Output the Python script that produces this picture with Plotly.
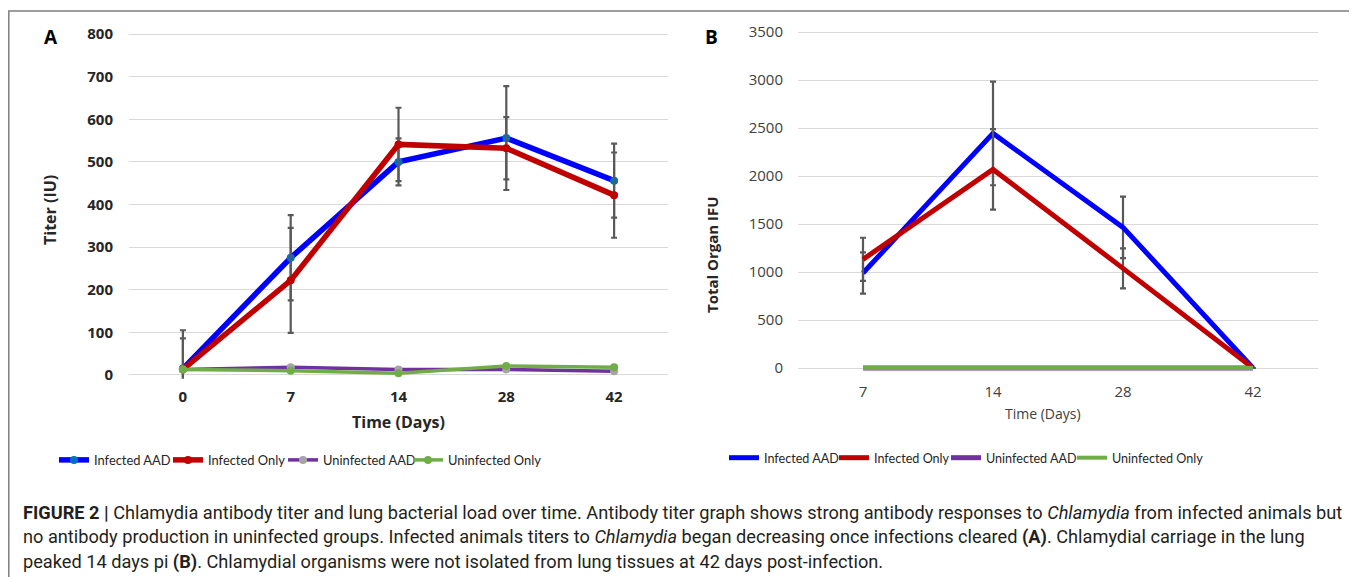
import plotly.graph_objects as go

# ---------------- data ----------------
days_a = ["0", "7", "14", "28", "42"]
inf_aad_a = [15, 275, 500, 556, 456]
inf_aad_a_err = [90, 100, 55, 122, 87]
inf_only_a = [13, 222, 541, 532, 422]
inf_only_a_err = [73, 123, 86, 73, 100]
uninf_aad_a = [13, 18, 13, 13, 9]
uninf_only_a = [13, 10, 4, 21, 18]

days_b = ["7", "14", "28", "42"]
inf_aad_b = [990, 2444, 1465, 0]
inf_aad_b_err = [215, 540, 320, None]
inf_only_b = [1132, 2069, 1038, 0]
inf_only_b_err = [225, 420, 209, None]
uninf_aad_b = [0, 0, 0, 0]
uninf_only_b = [0, 0, 0, 0]

series_names = ["Infected AAD", "Infected Only", "Uninfected AAD", "Uninfected Only"]
yticks_a = [0, 100, 200, 300, 400, 500, 600, 700, 800]
yticks_b = [0, 500, 1000, 1500, 2000, 2500, 3000, 3500]

# ---------------- style ----------------
# the page body has an 8px margin, so the figure is placed at (8, 8) in the window
OFF = 8
W, H = 1357 - OFF, 577 - OFF
BLUE, RED, PURPLE, GREEN = "#0000FF", "#C00000", "#7030A0", "#70AD47"
ERR = dict(type="data", visible=True, color="#595959", thickness=2.2, width=3)
GRID = "#D9D9D9"


def px_x(p):
    return (p - OFF) / W


def px_y(p):
    return 1 - (p - OFF) / H


fig = go.Figure()

# ---- Panel A ----
fig.add_trace(go.Scatter(x=days_a, y=inf_aad_a, name=series_names[0], mode="lines+markers",
                         line=dict(color=BLUE, width=5.5), marker=dict(color="#0070C0", size=8),
                         error_y=dict(array=inf_aad_a_err, **ERR), xaxis="x", yaxis="y", legend="legend"))
fig.add_trace(go.Scatter(x=days_a, y=inf_only_a, name=series_names[1], mode="lines+markers",
                         line=dict(color=RED, width=5.5), marker=dict(color=RED, size=8),
                         error_y=dict(array=inf_only_a_err, **ERR), xaxis="x", yaxis="y", legend="legend2"))
fig.add_trace(go.Scatter(x=days_a, y=uninf_aad_a, name=series_names[2], mode="lines+markers",
                         line=dict(color=PURPLE, width=3.5), marker=dict(color="#A5A5A5", size=8),
                         xaxis="x", yaxis="y", legend="legend3"))
fig.add_trace(go.Scatter(x=days_a, y=uninf_only_a, name=series_names[3], mode="lines+markers",
                         line=dict(color=GREEN, width=3.5), marker=dict(color=GREEN, size=8),
                         xaxis="x", yaxis="y", legend="legend4"))

# ---- Panel B ----
fig.add_trace(go.Scatter(x=days_b, y=inf_aad_b, name=series_names[0], mode="lines",
                         line=dict(color=BLUE, width=5),
                         error_y=dict(array=inf_aad_b_err, **ERR), xaxis="x2", yaxis="y2", legend="legend5"))
fig.add_trace(go.Scatter(x=days_b, y=inf_only_b, name=series_names[1], mode="lines",
                         line=dict(color=RED, width=5),
                         error_y=dict(array=inf_only_b_err, **ERR), xaxis="x2", yaxis="y2", legend="legend6"))
fig.add_trace(go.Scatter(x=days_b, y=uninf_aad_b, name=series_names[2], mode="lines",
                         line=dict(color=PURPLE, width=5), xaxis="x2", yaxis="y2", legend="legend7"))
fig.add_trace(go.Scatter(x=days_b, y=uninf_only_b, name=series_names[3], mode="lines",
                         line=dict(color=GREEN, width=4), xaxis="x2", yaxis="y2", legend="legend8"))

fig.update_layout(
    template="none",
    width=W, height=H, margin=dict(l=0, r=0, t=0, b=0, pad=0), autosize=False,
    font=dict(family="Open Sans", size=14, color="#262626"),
    paper_bgcolor="white", plot_bgcolor="white", showlegend=True,
    xaxis=dict(domain=[px_x(129), px_x(668)], type="category", range=[-0.5, 4.5],
               showgrid=False, zeroline=False, automargin=False,
               showline=False, ticks="", ticklabelstandoff=8,
               tickfont=dict(family="Open Sans", size=15, color="#262626", weight="bold"), anchor="y"),
    yaxis=dict(domain=[px_y(378.4), px_y(31.9)], range=[-8, 805], tickvals=yticks_a, automargin=False,
               showgrid=True, gridcolor=GRID, gridwidth=1.3, zeroline=False, showline=False,
               ticks="", ticklabelstandoff=15,
               tickfont=dict(family="Open Sans", size=15, color="#262626", weight="bold"), anchor="x"),
    xaxis2=dict(domain=[px_x(798), px_x(1318)], type="category", range=[-0.5, 3.5],
                showgrid=False, zeroline=False, automargin=False,
                showline=False, ticks="", ticklabelstandoff=10,
                tickfont=dict(family="Open Sans", size=15, color="#404040"), anchor="y2"),
    yaxis2=dict(domain=[px_y(370.9), px_y(30.1)], range=[-30, 3520], tickvals=yticks_b, automargin=False,
                showgrid=True, gridcolor=GRID, gridwidth=1.3, zeroline=False, showline=False,
                ticks="", ticklabelstandoff=14,
                tickfont=dict(family="Open Sans", size=15, color="#404040"), anchor="x2"),
)

# one legend per entry so each entry sits where the reference has it
legend_starts = [60, 174, 289, 414, 730, 840, 952, 1078]
legend_rows = [460, 460, 460, 460, 458, 458, 458, 458]
legend_sizes = [12.9, 12.9, 12.9, 12.9, 12.6, 12.6, 12.6, 12.6]
for i, (sx, sy, fs) in enumerate(zip(legend_starts, legend_rows, legend_sizes)):
    key = "legend" if i == 0 else f"legend{i + 1}"
    fig.update_layout({key: dict(orientation="h", x=px_x(sx - 6), y=px_y(sy), xanchor="left",
                                 yanchor="middle", font=dict(family="Lato", size=fs, color="#262626"),
                                 bgcolor="rgba(0,0,0,0)", itemwidth=30, borderwidth=0)})

ann_font_bold = dict(family="Open Sans", size=16, color="#262626", weight="bold")
annotations = [
    dict(text="A", x=px_x(51), y=px_y(37), font=dict(family="Open Sans", size=19, color="#000000", weight="bold")),
    dict(text="B", x=px_x(711), y=px_y(37), font=dict(family="Open Sans", size=19, color="#000000", weight="bold")),
    dict(text="Titer (IU)", x=px_x(50), y=px_y(210), textangle=-90, font=ann_font_bold),
    dict(text="Time (Days)", x=px_x(398), y=px_y(422), font=ann_font_bold),
    dict(text="Total Organ IFU", x=px_x(712), y=px_y(255), textangle=-90,
         font=dict(family="Open Sans", size=15, color="#262626", weight="bold")),
    dict(text="Time (Days)", x=px_x(1043), y=px_y(413),
         font=dict(family="Open Sans", size=14, color="#404040")),
]
CAP_FONT = dict(family="Roboto", size=18.2, color="#231F20")
caption_lines = [
    "<b>FIGURE 2 |</b> Chlamydia antibody titer and lung bacterial load over time. Antibody titer graph shows strong antibody responses to <i>Chlamydia</i> from infected animals but",
    "no antibody production in uninfected groups. Infected animals titers to <i>Chlamydia</i> began decreasing once infections cleared <b>(A)</b>. Chlamydial carriage in the lung",
    "peaked 14 days pi <b>(B)</b>. Chlamydial organisms were not isolated from lung tissues at 42 days post-infection.",
]
for i, line in enumerate(caption_lines):
    annotations.append(dict(text=line, x=px_x(21), y=px_y(512 + 25 * i), xanchor="left", font=CAP_FONT))

for a in annotations:
    a.setdefault("xref", "paper")
    a.setdefault("yref", "paper")
    a.setdefault("showarrow", False)
    a.setdefault("xanchor", "center")
    a.setdefault("yanchor", "middle")
fig.update_layout(annotations=annotations)

fig.add_shape(type="rect", xref="paper", yref="paper", x0=px_x(8.8), x1=px_x(1355), y0=-0.05, y1=px_y(11),
              line=dict(color="#7F7F7F", width=1.5), fillcolor="rgba(0,0,0,0)", layer="below")

fig.write_html("out.html")
